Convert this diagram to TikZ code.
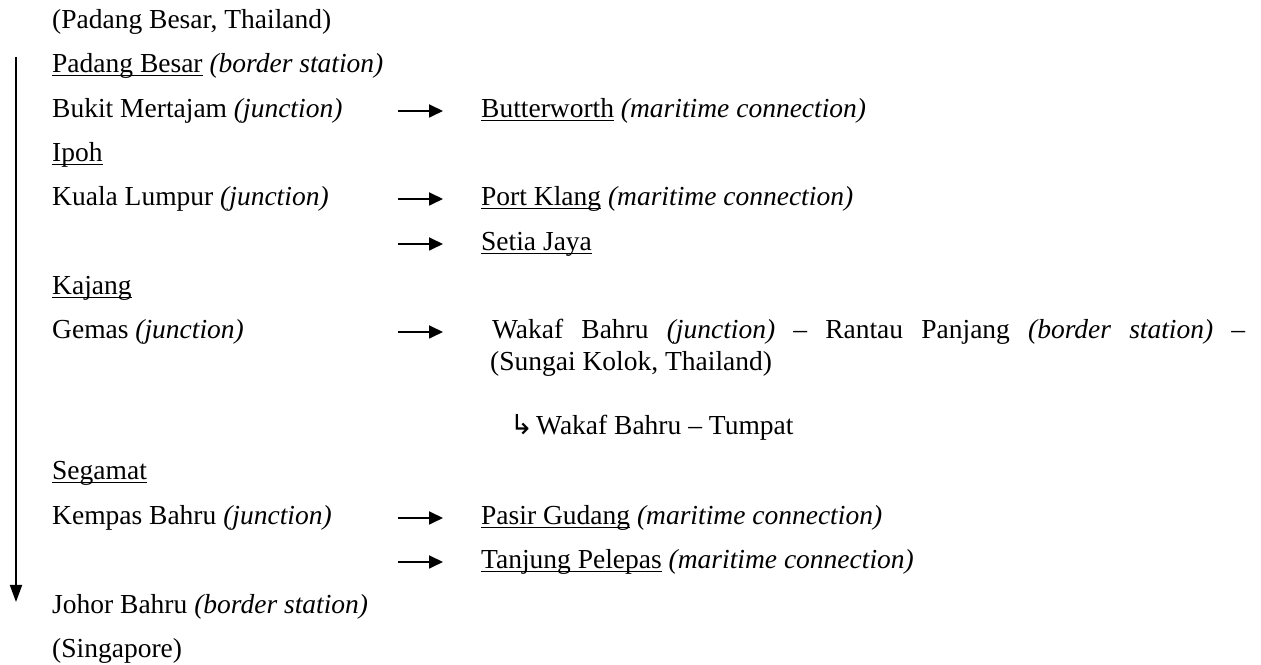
\documentclass[tikz,border=0pt]{standalone}
\usepackage{fontspec}
\setmainfont{Liberation Serif}
\newfontfamily\symfont{DejaVu Sans}
\usetikzlibrary{arrows.meta,calc}
\newlength\stnwd
\newcommand\stn[1]{\settowidth\stnwd{#1}\rlap{\rule[-0.12em]{\stnwd}{0.065em}}#1}

\begin{document}
\begin{tikzpicture}[x=1bp,y=1bp,every node/.style={font=\fontsize{27.5bp}{33bp}\selectfont,anchor=base west,inner sep=0},>={Triangle[length=14bp,width=13bp]}]
\path[use as bounding box] (0,0) rectangle (1261,665);
% main line
\node (pbth) at (52,636) {(Padang Besar, Thailand)};
\node (pb) at (52,592) {\stn{Padang Besar} \textit{(border station)}};
\node (bukit) at (52,547) {Bukit Mertajam \textit{(junction)}};
\node (ipoh) at (52,503) {\stn{Ipoh}};
\node (kl) at (52,459) {Kuala Lumpur \textit{(junction)}};
\node (kajang) at (52,370) {\stn{Kajang}};
\node (gemas) at (52,326) {Gemas \textit{(junction)}};
\node (segamat) at (52,185) {\stn{Segamat}};
\node (kempas) at (52,140) {Kempas Bahru \textit{(junction)}};
\node (johor) at (52,51) {Johor Bahru \textit{(border station)}};
\node (sg) at (52,7) {(Singapore)};
% branches
\node (butter) at (481,547) {\stn{Butterworth} \textit{(maritime connection)}};
\node (klang) at (481,459) {\stn{Port Klang} \textit{(maritime connection)}};
\node (setia) at (481,414) {\stn{Setia Jaya}};
\node (wakaf) at (492,326) {\makebox[753bp][s]{Wakaf Bahru \textit{(junction)} – Rantau Panjang \textit{(border station)} –}};
\node (kolok) at (490,294) {(Sungai Kolok, Thailand)};
\node (tumpat) at (510,230) {{\symfont ↳}\hspace{3bp}Wakaf Bahru – Tumpat};
\node (pasir) at (481,140) {\stn{Pasir Gudang} \textit{(maritime connection)}};
\node (tanjung) at (481,96) {\stn{Tanjung Pelepas} \textit{(maritime connection)}};
\coordinate (ax) at (398,7);
\coordinate (bx) at (443,7);
\foreach \n in {butter,klang,setia,wakaf,pasir,tanjung}{\draw[->,line width=1.8bp] ($(ax |- \n.base)+(0,7)$) -- ($(bx |- \n.base)+(0,7)$);}
\coordinate (ltop) at (16,608);
\coordinate (lbot) at (16,63);
\draw[-{Triangle[length=17bp,width=12bp]},line width=1.8bp] (ltop) -- (lbot);
\end{tikzpicture}
\end{document}
